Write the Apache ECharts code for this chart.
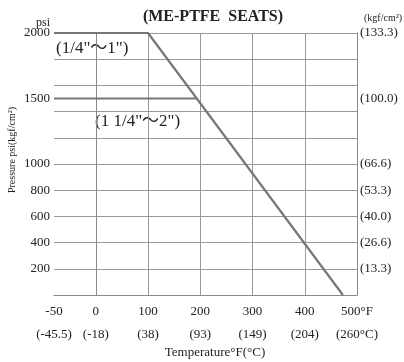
<!DOCTYPE html>
<html>
<head>
<meta charset="utf-8">
<script src="https://cdn.jsdelivr.net/npm/echarts@6/dist/echarts.min.js"></script>
<style>html,body{margin:0;padding:0;background:#fff}#c{width:404px;height:362px}</style>
</head>
<body>
<div id="c"></div>
<script>
// ---- data ----
const smallSizeTempF = [-50, 100, 473];
const smallSizePsi   = [2000, 2000, 0];
const largeSizeTempF = [-50, 193];
const largeSizePsi   = [1500, 1500];

const xTickF      = [-50, 0, 100, 200, 300, 400, 500];
const xTickFLabel = ['-50', '0', '100', '200', '300', '400', '500°F'];
const xTickCLabel = ['(-45.5)', '(-18)', '(38)', '(93)', '(149)', '(204)', '(260°C)'];
const xGridF      = [0, 100, 200, 300, 400];

const yTickPsi      = [200, 400, 600, 800, 1000, 1500, 2000];
const yTickPsiLabel = ['200', '400', '600', '800', '1000', '1500', '2000'];
const yTickKgfLabel = ['(13.3)', '(26.6)', '(40.0)', '(53.3)', '(66.6)', '(100.0)', '(133.3)'];

// the chart's temperature scale is compressed below 0°F (broken scale)
const BELOW_ZERO_STRETCH = 1.6;
const toAxis = f => f < 0 ? f * BELOW_ZERO_STRETCH : f;

const FONT = 'Liberation Serif';
const TXT = '#222';

const chart = echarts.init(document.getElementById('c'));
const xPos = xTickF.map(toAxis);
const pairs = (xs, ys) => xs.map((x, i) => [toAxis(x), ys[i]]);

chart.setOption({
  animation: false,
  grid: { left: 54, right: 47, top: 33, bottom: 67 },
  textStyle: { fontFamily: FONT },
  xAxis: {
    type: 'value',
    min: toAxis(-50), max: 500,
    axisLine: { show: true, lineStyle: { color: '#888', width: 1 } },
    axisTick: { show: false, customValues: xGridF },
    splitLine: { show: true, lineStyle: { color: '#999', width: 1 } },
    axisLabel: {
      customValues: xPos,
      margin: 5,
      formatter: v => {
        const i = xPos.findIndex(p => Math.abs(p - v) < 1e-6);
        if (i < 0) return '';
        return '{f|' + xTickFLabel[i] + '}\n{c|' + xTickCLabel[i] + '}';
      },
      rich: {
        f: { fontFamily: FONT, fontSize: 13, lineHeight: 23, color: TXT },
        c: { fontFamily: FONT, fontSize: 13, lineHeight: 23, color: TXT }
      }
    }
  },
  yAxis: [
    {
      type: 'value', min: 0, max: 2000, interval: 200,
      axisLine: { show: true, lineStyle: { color: '#888' } },
      axisTick: { show: false },
      splitLine: { show: true, lineStyle: { color: '#999', width: 1 } },
      axisLabel: {
        customValues: yTickPsi, margin: 4,
        fontFamily: FONT, fontSize: 13, color: TXT,
        formatter: v => yTickPsiLabel[yTickPsi.indexOf(v)] || ''
      }
    },
    {
      type: 'value', min: 0, max: 2000, interval: 200, position: 'right',
      axisLine: { show: true, lineStyle: { color: '#888' } },
      axisTick: { show: false },
      splitLine: { show: false },
      axisLabel: {
        customValues: yTickPsi, margin: 3,
        fontFamily: FONT, fontSize: 13, color: TXT,
        formatter: v => yTickKgfLabel[yTickPsi.indexOf(v)] || ''
      }
    }
  ],
  series: [
    {
      name: '(1/4"～1")', type: 'line', data: pairs(smallSizeTempF, smallSizePsi),
      symbol: 'none', lineStyle: { color: '#777', width: 2.2 }, z: 5
    },
    {
      name: '(1 1/4"～2")', type: 'line', data: pairs(largeSizeTempF, largeSizePsi),
      symbol: 'none', lineStyle: { color: '#777', width: 2.2 }, z: 5
    }
  ],
  graphic: [
    { type: 'text', x: 213, y: 17, style: { text: '(ME-PTFE  SEATS)', font: 'bold 16px "Liberation Serif"', fill: TXT, align: 'center', verticalAlign: 'middle' } },
    { type: 'text', x: 43, y: 23, style: { text: 'psi', font: '12px "Liberation Serif"', fill: TXT, align: 'center', verticalAlign: 'middle' } },
    { type: 'text', x: 383, y: 18, style: { text: '(kgf/cm²)', font: '10px "Liberation Serif"', fill: TXT, align: 'center', verticalAlign: 'middle' } },
    { type: 'text', x: 12, y: 150, rotation: Math.PI / 2, style: { text: 'Pressure psi(kgf/cm²)', font: '10px "Liberation Serif"', fill: TXT, align: 'center', verticalAlign: 'middle' } },
    { type: 'text', x: 215, y: 353, style: { text: 'Temperature°F(°C)', font: '13px "Liberation Serif"', fill: TXT, align: 'center', verticalAlign: 'middle' } },
    { type: 'text', x: 56, y: 49, style: { text: '(1/4"～1")', font: '17px "Liberation Serif", "Noto Sans CJK JP"', fill: TXT, align: 'left', verticalAlign: 'middle' } },
    { type: 'text', x: 95, y: 122, style: { text: '(1 1/4"～2")', font: '17px "Liberation Serif", "Noto Sans CJK JP"', fill: TXT, align: 'left', verticalAlign: 'middle' } }
  ]
});
</script>
</body>
</html>
